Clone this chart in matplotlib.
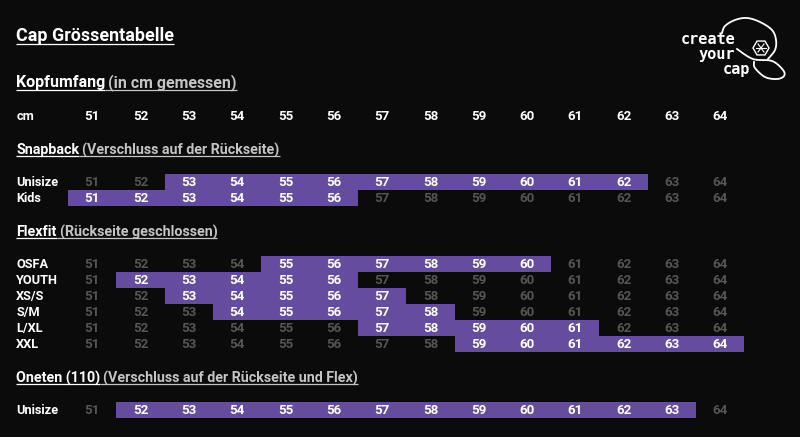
#!/usr/bin/env python3
import numpy as np
import matplotlib
matplotlib.use("Agg")
import matplotlib.pyplot as plt
from matplotlib.patches import Polygon

# Sizes and which ones each cap model fits.
sizes = [51, 52, 53, 54, 55, 56, 57, 58, 59, 60, 61, 62, 63, 64]

snapback_labels = ["Unisize", "Kids"]
snapback_from = [53, 51]
snapback_to = [62, 56]

flexfit_labels = ["OSFA", "YOUTH", "XS/S", "S/M", "L/XL", "XXL"]
flexfit_from = [55, 52, 53, 54, 57, 59]
flexfit_to = [60, 56, 57, 58, 61, 64]

oneten_labels = ["Unisize"]
oneten_from = [52]
oneten_to = [63]

bg = "#0b0b0c"
purple = "#664c9e"
white = "#ffffff"
grey = "#c4c4c4"
dim = "#555555"
font = "Roboto"

# Axes fill the figure: x is cap size, y is in pixels from the top.
px_per_size = 48.3
fig = plt.figure(figsize=(8, 4.37), dpi=100, facecolor=bg)
ax = fig.add_axes([0, 0, 1, 1])
ax.set_xlim(51 - 92.3 / px_per_size, 51 + (800 - 92.3) / px_per_size)
ax.set_ylim(437, 0)
ax.axis("off")
label_x = ax.get_xlim()[0] + 16.2 / px_per_size


def heading(y, bold, rest, size=10.3, color=grey):
    t1 = ax.text(label_x, y + 1, bold, color=white, fontsize=size, fontweight="bold",
                 family=font, va="center", ha="left")
    fig.canvas.draw()
    inv = ax.transData.inverted()
    box = t1.get_window_extent()
    end = inv.transform((box.x1, box.y0))[0]
    under = y + size * 0.68
    ax.plot([label_x, end], [under, under], color=white, lw=0.9, solid_capstyle="butt")
    if rest:
        t2 = ax.text(end + 3 / px_per_size, y + 1, rest, color=color, fontsize=size,
                     fontweight="bold", family=font, va="center", ha="left")
        fig.canvas.draw()
        end2 = inv.transform((t2.get_window_extent().x1, 0))[0]
        ax.plot([end, end2], [under, under], color=color, lw=0.9, solid_capstyle="butt")


def size_rows(top, labels, start, stop, row_h=16.03):
    for i, name in enumerate(labels):
        y = top + i * row_h
        ax.barh(y, stop[i] - start[i] + 1, left=start[i] - 0.5, height=row_h,
                color=purple, linewidth=0)
        ax.text(label_x, y + 0.5, name, color=white, fontsize=9.2, fontweight="bold",
                family=font, va="center", ha="left")
        for s in sizes:
            active = start[i] <= s <= stop[i]
            ax.text(s, y + 0.5, str(s), color=white if active else dim, fontsize=9.6,
                    fontweight="bold", family=font, va="center", ha="center")


heading(35, "Cap Grössentabelle", "", size=12.9)
heading(82, "Kopfumfang", "(in cm gemessen)", size=11.5)

ax.text(label_x, 116.5, "cm", color=white, fontsize=9.2, fontweight="bold",
        family=font, va="center", ha="left")
for s in sizes:
    ax.text(s, 116.5, str(s), color=white, fontsize=9.6, fontweight="bold",
            family=font, va="center", ha="center")

heading(149, "Snapback", "(Verschluss auf der Rückseite)")
size_rows(182, snapback_labels, snapback_from, snapback_to)

heading(231, "Flexfit", "(Rückseite geschlossen)")
size_rows(264, flexfit_labels, flexfit_from, flexfit_to)

heading(377, "Oneten (110)", "(Verschluss auf der Rückseite und Flex)")
size_rows(410, oneten_labels, oneten_from, oneten_to)


def smooth(points, steps=12):
    # Catmull-Rom through the traced outline of the logo.
    p = np.array(points, dtype=float)
    p = np.vstack([p[0], p, p[-1]])
    t = np.linspace(0, 1, steps)[:, None]
    out = []
    for a, b, c, d in zip(p[:-3], p[1:-2], p[2:-1], p[3:]):
        out.append(0.5 * (2 * b + (c - a) * t + (2 * a - 5 * b + 4 * c - d) * t ** 2
                          + (3 * b - a - 3 * c + d) * t ** 3))
    return np.vstack(out)


# Logo, drawn in pixel position on a overlay axes.
logo = fig.add_axes([0, 0, 1, 1])
logo.set_xlim(0, 800)
logo.set_ylim(437, 0)
logo.axis("off")
logo.patch.set_alpha(0)
for txt, x, y in [("create", 735, 44), ("your", 735, 59), ("cap", 750, 74)]:
    logo.text(x, y, txt, color=white, fontsize=11, fontweight="bold",
              family="DejaVu Sans Mono", va="baseline", ha="right")
dome = smooth([(722, 33), (725, 26), (735, 20), (747, 18), (760, 22), (772, 30),
               (776, 40), (775, 50), (768, 59)])
brim = smooth([(737, 49), (753, 59), (772, 61), (783, 70), (784, 76), (777, 79),
               (765, 77), (755, 68), (754, 62)])
logo.plot(dome[:, 0], dome[:, 1], color=white, lw=1.3)
logo.plot(brim[:, 0], brim[:, 1], color=white, lw=1.3)
angles = np.deg2rad(np.arange(0, 360, 60))
logo.add_patch(Polygon(np.c_[761 + 8 * np.cos(angles), 48 + 8 * np.sin(angles)],
                       closed=True, fill=False, edgecolor=white, lw=1))
logo.plot([756, 766], [48, 48], color=white, lw=0.8)
logo.plot([758, 764], [44, 52], color=white, lw=0.8)
logo.plot([764, 758], [44, 52], color=white, lw=0.8)

fig.savefig("out.png", dpi=100, facecolor=bg)
